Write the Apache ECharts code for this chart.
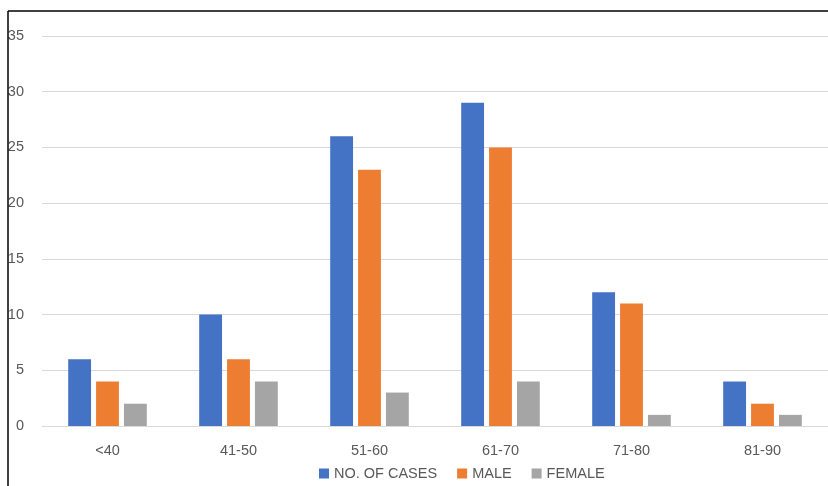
<!DOCTYPE html>
<html><head><meta charset="utf-8">
<script src="https://cdn.jsdelivr.net/npm/echarts@6/dist/echarts.min.js"></script>
<style>html,body{margin:0;padding:0;background:#fff}#c{width:828px;height:486px}</style>
</head><body><div id="c"></div>
<script>
var categories = ['<40', '41-50', '51-60', '61-70', '71-80', '81-90'];
var seriesNames = ['NO. OF CASES', 'MALE', 'FEMALE'];
var cases = [6, 10, 26, 29, 12, 4];
var male = [4, 6, 23, 25, 11, 2];
var female = [2, 4, 3, 4, 1, 1];
var colors = ['#4472C4', '#ED7D31', '#A5A5A5'];
var font = 'Liberation Sans';
var chart = echarts.init(document.getElementById('c'));
var data = [cases, male, female];
chart.setOption({
  animation: false,
  color: colors,
  textStyle: {fontFamily: font},
  grid: {left: 42, right: -4, top: 36, bottom: 60},
  legend: {
    data: seriesNames, left: 314, top: 461, itemWidth: 10, itemHeight: 10, itemGap: 20,
    icon: 'rect', textStyle: {color: '#595959', fontSize: 14.5, fontFamily: font}
  },
  xAxis: {
    type: 'category', data: categories,
    axisLine: {lineStyle: {color: '#D9D9D9'}},
    axisTick: {show: false},
    axisLabel: {color: '#595959', fontSize: 14.5, margin: 17}
  },
  yAxis: {
    type: 'value', min: 0, max: 35, interval: 5,
    axisLabel: {color: '#595959', fontSize: 14.5, margin: 18},
    splitLine: {lineStyle: {color: '#D9D9D9'}},
    axisLine: {show: false}
  },
  series: seriesNames.map(function (n, i) {
    return {name: n, type: 'bar', data: data[i], barGap: '22%', barCategoryGap: '40%',
      itemStyle: {color: colors[i]}};
  }),
  graphic: [
    {type: 'rect', shape: {x: 0, y: 0, width: 8, height: 486}, style: {fill: '#fff'}, z: 100},
    {type: 'line', shape: {x1: 8, y1: 11, x2: 828, y2: 11}, style: {stroke: '#000', lineWidth: 1.5}, z: 101},
    {type: 'line', shape: {x1: 8, y1: 11, x2: 8, y2: 486}, style: {stroke: '#000', lineWidth: 1.5}, z: 101}
  ]
});
</script></body></html>
